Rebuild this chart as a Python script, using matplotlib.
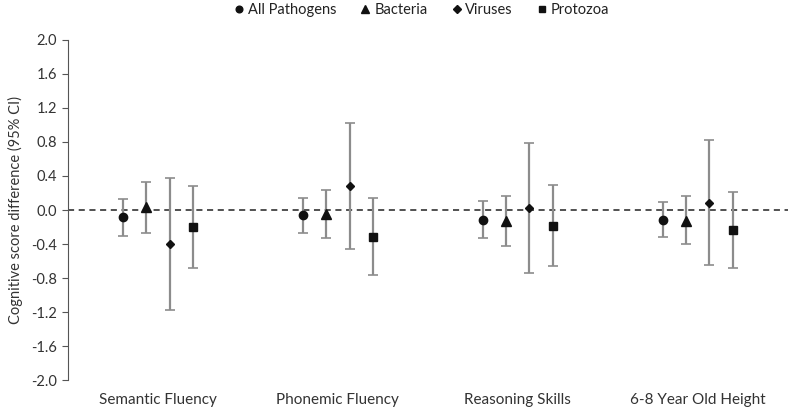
import matplotlib
matplotlib.use("Agg")
import matplotlib.pyplot as plt
from matplotlib.lines import Line2D
import numpy as np

plt.rcParams["font.family"] = ["Lato", "DejaVu Sans"]

# outcomes and pathogen groups
outcomes = ["Semantic Fluency", "Phonemic Fluency", "Reasoning Skills", "6-8 Year Old Height"]
groups = ["All Pathogens", "Bacteria", "Viruses", "Protozoa"]
markers = ["o", "^", "D", "s"]

# point estimates and 95% CI, one list per pathogen group (over outcomes)
est_all = [-0.08, -0.06, -0.12, -0.12]
lo_all = [-0.30, -0.27, -0.33, -0.32]
hi_all = [0.13, 0.14, 0.10, 0.09]

est_bac = [0.03, -0.05, -0.13, -0.13]
lo_bac = [-0.27, -0.33, -0.42, -0.40]
hi_bac = [0.33, 0.24, 0.17, 0.17]

est_vir = [-0.40, 0.28, 0.02, 0.08]
lo_vir = [-1.18, -0.46, -0.74, -0.65]
hi_vir = [0.38, 1.02, 0.79, 0.82]

est_pro = [-0.20, -0.32, -0.19, -0.23]
lo_pro = [-0.68, -0.77, -0.66, -0.68]
hi_pro = [0.28, 0.14, 0.29, 0.21]

est = [est_all, est_bac, est_vir, est_pro]
lo = [lo_all, lo_bac, lo_vir, lo_pro]
hi = [hi_all, hi_bac, hi_vir, hi_pro]

fig = plt.figure(figsize=(7.89, 4.11), dpi=100)
ax = fig.add_axes([0.0862, 0.0754, 0.912, 0.8273])

x = np.arange(len(outcomes))
step = 0.13
msize = [6, 6.5, 4.5, 6]

ax.axhline(0, color="#222222", lw=1.1, ls=(0, (4, 3)), zorder=1)

for i, g in enumerate(groups):
    xi = x + (i - 1.5) * step
    e = np.array(est[i])
    yerr = [e - np.array(lo[i]), np.array(hi[i]) - e]
    ax.errorbar(xi, e, yerr=yerr, fmt="none", ecolor="#8c8c8c", elinewidth=1.6,
                capsize=3.5, capthick=1.2, zorder=2)
    ax.plot(xi, e, ls="none", marker=markers[i], ms=msize[i], color="#111111", zorder=3)

yt = np.round(np.arange(-2.0, 2.01, 0.4), 1)
ax.set_xlim(-0.5, 3.5)
ax.set_ylim(-2.0, 2.0)
ax.set_yticks(yt)
ax.set_yticklabels([f"{v:.1f}".replace("-0.0", "0.0") for v in yt], fontsize=10.5, color="#333333")
ax.set_xticks(x)
ax.set_xticklabels(outcomes, fontsize=11, color="#333333")
ax.tick_params(axis="x", length=0, pad=9)
ax.tick_params(axis="y", length=4, color="#555555", pad=4, direction="out")

for s in ["top", "right", "bottom"]:
    ax.spines[s].set_visible(False)
ax.spines["left"].set_color("#555555")

ax.set_ylabel("Cognitive score difference (95% CI)", fontsize=10.5, color="#333333", labelpad=6)

handles = [Line2D([], [], ls="none", marker=m, ms=s * 0.8, color="#111111")
           for m, s in zip(markers, msize)]
fig.legend(handles, groups, loc="upper center", bbox_to_anchor=(0.533, 1.025), ncol=4,
           frameon=False, fontsize=10.5, handletextpad=0.1, columnspacing=1.5,
           handlelength=1.0, labelcolor="#222222")

fig.savefig("out.png", dpi=100)
